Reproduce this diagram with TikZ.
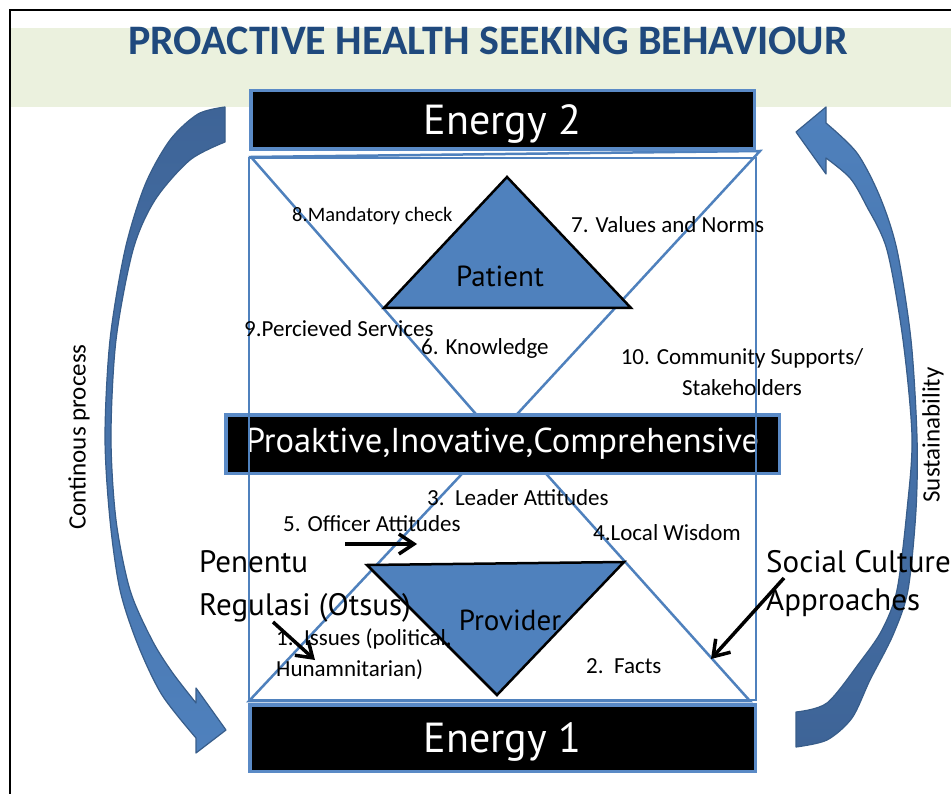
\documentclass[tikz,border=0pt]{standalone}
\usepackage{fontspec}
\setmainfont{Carlito}
\newfontfamily\handfont{PT Sans}
\usepackage{xcolor}
\definecolor{titleblue}{HTML}{1F497D}
\definecolor{band}{HTML}{EBF1DE}
\definecolor{lineblue}{HTML}{4F81BD}
\definecolor{boxedge}{HTML}{5A8AC6}
\definecolor{arrowdark}{HTML}{3E6497}
\definecolor{arrowlight}{HTML}{4F81BD}
\definecolor{arrowedge}{HTML}{385D8A}
\usepackage{tikz}
\usetikzlibrary{arrows.meta}
\tikzset{
  energy/.style  ={draw=boxedge,line width=3.5pt,fill=black,text=white,
                   font=\handfont\fontsize{42}{42}\selectfont,
                   text depth=0pt,inner sep=0pt,outer sep=0pt},
  slogan/.style  ={draw=boxedge,line width=3.5pt,fill=black,text=white,
                   font=\handfont\fontsize{34.5}{34.5}\selectfont,
                   minimum width=553.5pt,minimum height=58.5pt,inner sep=0pt},
  frameline/.style={draw=lineblue,line width=2.5pt,line join=miter},
  actor/.style   ={fill=lineblue,draw=black,line width=2.5pt,line join=miter},
  actorlbl/.style={font=\handfont\fontsize{29}{29}\selectfont,inner sep=0pt,anchor=base},
  hand/.style    ={inner sep=0pt,anchor=north west,align=left},
  lbl/.style     ={font=\fontsize{23}{31}\selectfont,inner sep=0pt,anchor=base west},
  side/.style    ={font=\fontsize{25}{25}\selectfont,rotate=90,inner sep=0pt},
  pointer/.style ={-{Straight Barb[length=15pt,width=20pt]},line width=3.5pt},
  bigarrow/.style={draw=arrowedge,line width=1.2pt,line join=round},
}

\begin{document}
\begin{tikzpicture}[x=1pt,y=-1pt]
\useasboundingbox (0,0) rectangle (951,794);
\fill[white] (0,0) rectangle (951,794);
% heading band and frame
\fill[band] (11,28) rectangle (951,107);
\draw[line width=2pt] (10,794) -- (10,10) -- (951,10);
% cycle arrows
\path[bigarrow,top color=arrowdark,bottom color=arrowlight]
  plot[smooth] coordinates {(225,107) (198,114) (170,140) (145,185) (125,250)
        (110,340) (105,437) (110,520) (120,590) (138,645) (162,695) (196,738)}
  -- (196,753) -- (226,730) -- (196,688) -- (196,703)
  -- plot[smooth] coordinates {(196,703) (172,672) (152,640) (130,590) (116,520)
        (111,437) (116,340) (133,250) (155,200) (190,160) (225,142)}
  -- cycle;
\path[bigarrow,top color=arrowlight,bottom color=arrowdark]
  plot[smooth] coordinates {(796,747) (827,740) (852,718) (870,680) (893,635)
        (908,590) (916,510) (917,437) (911,340) (897,250) (880,197) (857,153) (826,123)}
  -- (826,107) -- (796,132) -- (826,174) -- (826,158)
  -- plot[smooth] coordinates {(826,158) (850,178) (866,205) (887,250) (903,340)
        (912,437) (907,510) (897,590) (882,630) (860,662) (827,703) (796,712)}
  -- cycle;
% crossing triangles
\draw[frameline] (251,157) -- (496,437) -- (760,151) -- cycle;
\draw[frameline] (249,701) -- (505,428) -- (750,701) -- cycle;
\draw[actor] (384,308) -- (507,177) -- (631,308) -- cycle;
\draw[actor] (367,565) -- (624,562) -- (497,695) -- cycle;
\node[actorlbl] (patient) at (500,287) {Patient};
\node[actorlbl] (provider) at (510,630) {Provider};
% boxes
\node[slogan] (slogan) at (502.5,444) {Proaktive,Inovative,Comprehensive};
\draw[frameline,line width=2pt] (249,158) rectangle (756,700);
\node[energy,minimum width=503.5pt,minimum height=58.5pt] (energy2) at (502.5,120) {Energy 2};
\node[energy,minimum width=505.5pt,minimum height=66.5pt] (energy1) at (502.5,738) {Energy 1};
\node[font=\bfseries\fontsize{42}{42}\selectfont,text=titleblue,inner sep=0pt,anchor=base]
  (title) at (488,55) {PROACTIVE HEALTH SEEKING BEHAVIOUR};
% factors
\node[lbl,font=\fontsize{20.5}{24}\selectfont] (f8) at (292,222) {8.Mandatory check};
\node[lbl] (f7) at (571,233) {7. Values and Norms};
\node[lbl] (f9) at (244,337) {9.Percieved Services};
\node[lbl] (f6) at (421,355) {6. Knowledge};
\node[lbl,anchor=north,align=center] (f10) at (742,348) {10. Community Supports/\\Stakeholders};
\node[lbl] (f3) at (427,505) {3.~~Leader Attitudes};
\node[lbl] (f5) at (283,531) {5. Officer Attitudes};
\node[lbl] (f4) at (593,540) {4.Local Wisdom};
\node[lbl,anchor=north west,align=left] (f1) at (276,628) {1.~~Issues (political,\\Hunamnitarian)};
\node[lbl] (f2) at (586,673) {2.~~Facts};
% handwritten notes
\node[hand,font=\handfont\fontsize{31}{43}\selectfont] (otsus) at (199,550) {Penentu\\Regulasi (Otsus)};
\node[hand,font=\handfont\fontsize{31}{38}\selectfont] (culture) at (766,550) {Social Culture\\Approaches};
\node[side] (cont) at (79,437) {Continous process};
\node[side] (sust) at (933,435) {Sustainability};
% pointers
\coordinate (officerTail) at (345,544);
\coordinate (officerTip) at (417,544);
\coordinate (otsusTail) at (273,622);
\coordinate (otsusTip) at (315,660);
\coordinate (cultureTail) at (784,578);
\coordinate (cultureTip) at (711,659);
\draw[pointer] (officerTail) -- (officerTip);
\draw[pointer] (otsusTail) -- (otsusTip);
\draw[pointer] (cultureTail) -- (cultureTip);
\end{tikzpicture}
\end{document}
